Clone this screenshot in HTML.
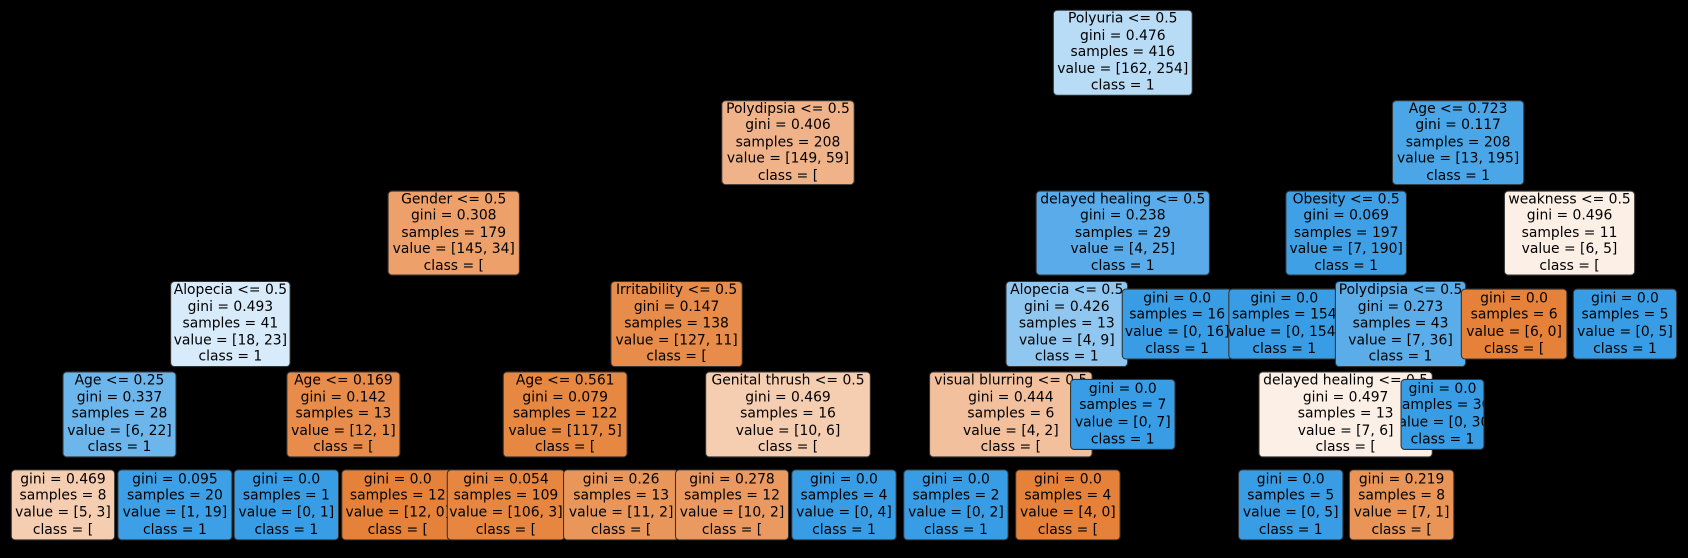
<!DOCTYPE html>
<html><head><style>
html,body{margin:0;padding:0;background:#000;width:1688px;height:558px;overflow:hidden}
#w{position:absolute;left:0;top:0;width:1568px;height:518px;transform:scale(1.0765);transform-origin:0 0}
.n{position:absolute;box-sizing:border-box;border:1px solid #333;border-radius:4px;display:flex;flex-direction:column;justify-content:center;align-items:center;text-align:center;font-family:"DejaVu Sans","Liberation Sans",sans-serif;font-size:12.9px;line-height:15.6px;color:#000;white-space:nowrap;overflow:hidden}
</style></head><body><div id="w">
<div class="n" style="left:978px;top:9px;width:130px;height:80px;background:#b9dcf6">Polyuria &lt;= 0.5<br>gini = 0.476<br>samples = 416<br>value = [162, 254]<br>class = 1</div>
<div class="n" style="left:670px;top:93px;width:124px;height:79px;background:#f0b389">Polydipsia &lt;= 0.5<br>gini = 0.406<br>samples = 208<br>value = [149, 59]<br>class = [</div>
<div class="n" style="left:360px;top:177px;width:123px;height:79px;background:#eda06a">Gender &lt;= 0.5<br>gini = 0.308<br>samples = 179<br>value = [145, 34]<br>class = [</div>
<div class="n" style="left:158px;top:261px;width:112px;height:80px;background:#d8ebfa">Alopecia &lt;= 0.5<br>gini = 0.493<br>samples = 41<br>value = [18, 23]<br>class = 1</div>
<div class="n" style="left:58px;top:345px;width:106px;height:80px;background:#6cb6ec">Age &lt;= 0.25<br>gini = 0.337<br>samples = 28<br>value = [6, 22]<br>class = 1</div>
<div class="n" style="left:10px;top:436px;width:97px;height:66px;background:#f5cdb0">gini = 0.469<br>samples = 8<br>value = [5, 3]<br>class = [</div>
<div class="n" style="left:109px;top:436px;width:107px;height:66px;background:#3d9fe6">gini = 0.095<br>samples = 20<br>value = [1, 19]<br>class = 1</div>
<div class="n" style="left:266px;top:345px;width:106px;height:80px;background:#e78c4b">Age &lt;= 0.169<br>gini = 0.142<br>samples = 13<br>value = [12, 1]<br>class = [</div>
<div class="n" style="left:217px;top:436px;width:98px;height:66px;background:#399de5">gini = 0.0<br>samples = 1<br>value = [0, 1]<br>class = 1</div>
<div class="n" style="left:317px;top:436px;width:105px;height:66px;background:#e58139">gini = 0.0<br>samples = 12<br>value = [12, 0]<br>class = [</div>
<div class="n" style="left:567px;top:261px;width:123px;height:80px;background:#e78c4a">Irritability &lt;= 0.5<br>gini = 0.147<br>samples = 138<br>value = [127, 11]<br>class = [</div>
<div class="n" style="left:467px;top:345px;width:116px;height:80px;background:#e68742">Age &lt;= 0.561<br>gini = 0.079<br>samples = 122<br>value = [117, 5]<br>class = [</div>
<div class="n" style="left:415px;top:436px;width:110px;height:66px;background:#e68641">gini = 0.054<br>samples = 109<br>value = [106, 3]<br>class = [</div>
<div class="n" style="left:523px;top:436px;width:108px;height:66px;background:#e9965a">gini = 0.26<br>samples = 13<br>value = [11, 2]<br>class = [</div>
<div class="n" style="left:655px;top:345px;width:154px;height:80px;background:#f5cdb0">Genital thrush &lt;= 0.5<br>gini = 0.469<br>samples = 16<br>value = [10, 6]<br>class = [</div>
<div class="n" style="left:627px;top:436px;width:106px;height:66px;background:#ea9a61">gini = 0.278<br>samples = 12<br>value = [10, 2]<br>class = [</div>
<div class="n" style="left:735px;top:436px;width:98px;height:66px;background:#399de5">gini = 0.0<br>samples = 4<br>value = [0, 4]<br>class = 1</div>
<div class="n" style="left:1293px;top:93px;width:123px;height:79px;background:#4aa6e7">Age &lt;= 0.723<br>gini = 0.117<br>samples = 208<br>value = [13, 195]<br>class = 1</div>
<div class="n" style="left:962px;top:177px;width:162px;height:79px;background:#59ace9">delayed healing &lt;= 0.5<br>gini = 0.238<br>samples = 29<br>value = [4, 25]<br>class = 1</div>
<div class="n" style="left:934px;top:261px;width:114px;height:80px;background:#8fc7f0">Alopecia &lt;= 0.5<br>gini = 0.426<br>samples = 13<br>value = [4, 9]<br>class = 1</div>
<div class="n" style="left:863px;top:345px;width:152px;height:80px;background:#f2c09c">visual blurring &lt;= 0.5<br>gini = 0.444<br>samples = 6<br>value = [4, 2]<br>class = [</div>
<div class="n" style="left:839px;top:436px;width:98px;height:66px;background:#399de5">gini = 0.0<br>samples = 2<br>value = [0, 2]<br>class = 1</div>
<div class="n" style="left:943px;top:436px;width:98px;height:66px;background:#e58139">gini = 0.0<br>samples = 4<br>value = [4, 0]<br>class = [</div>
<div class="n" style="left:994px;top:352px;width:98px;height:66px;background:#399de5">gini = 0.0<br>samples = 7<br>value = [0, 7]<br>class = 1</div>
<div class="n" style="left:1042px;top:268px;width:103px;height:66px;background:#399de5">gini = 0.0<br>samples = 16<br>value = [0, 16]<br>class = 1</div>
<div class="n" style="left:1194px;top:177px;width:113px;height:79px;background:#40a0e6">Obesity &lt;= 0.5<br>gini = 0.069<br>samples = 197<br>value = [7, 190]<br>class = 1</div>
<div class="n" style="left:1141px;top:268px;width:104px;height:66px;background:#399de5">gini = 0.0<br>samples = 154<br>value = [0, 154]<br>class = 1</div>
<div class="n" style="left:1240px;top:261px;width:122px;height:80px;background:#5aade9">Polydipsia &lt;= 0.5<br>gini = 0.273<br>samples = 43<br>value = [7, 36]<br>class = 1</div>
<div class="n" style="left:1169px;top:345px;width:162px;height:80px;background:#fcefe6">delayed healing &lt;= 0.5<br>gini = 0.497<br>samples = 13<br>value = [7, 6]<br>class = [</div>
<div class="n" style="left:1150px;top:436px;width:98px;height:66px;background:#399de5">gini = 0.0<br>samples = 5<br>value = [0, 5]<br>class = 1</div>
<div class="n" style="left:1253px;top:436px;width:98px;height:66px;background:#e99558">gini = 0.219<br>samples = 8<br>value = [7, 1]<br>class = [</div>
<div class="n" style="left:1301px;top:352px;width:78px;height:66px;background:#399de5">gini = 0.0<br>samples = 30<br>value = [0, 30]<br>class = 1</div>
<div class="n" style="left:1397px;top:177px;width:122px;height:79px;background:#fcefe5">weakness &lt;= 0.5<br>gini = 0.496<br>samples = 11<br>value = [6, 5]<br>class = [</div>
<div class="n" style="left:1357px;top:268px;width:99px;height:66px;background:#e58139">gini = 0.0<br>samples = 6<br>value = [6, 0]<br>class = [</div>
<div class="n" style="left:1461px;top:268px;width:97px;height:66px;background:#399de5">gini = 0.0<br>samples = 5<br>value = [0, 5]<br>class = 1</div>
</div></body></html>
